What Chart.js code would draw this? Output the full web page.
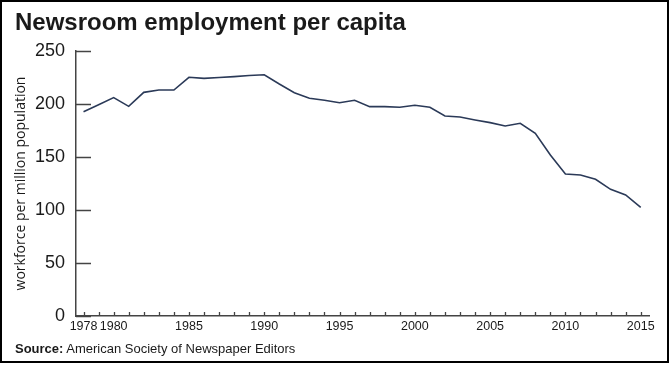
<!DOCTYPE html>
<html>
<head>
<meta charset="utf-8">
<script src="https://cdn.jsdelivr.net/npm/chart.js@4/dist/chart.umd.min.js"></script>
<style>
  html, body { margin: 0; padding: 0; background: #fff; }
  #wrap { position: relative; width: 670px; height: 367px; overflow: hidden; }
  #frame { position: absolute; left: 0; top: 0; width: 669px; height: 363px; box-sizing: border-box; border: 2px solid #000; pointer-events: none; }
  #title { position: absolute; left: 15px; top: 10px; font: bold 24px/24px "Liberation Sans", Arial, sans-serif; color: #1a1a1a; white-space: nowrap; }
  #source { position: absolute; left: 15px; top: 342px; font: 13px/13px "Liberation Sans", Arial, sans-serif; color: #1a1a1a; white-space: nowrap; }
  #chartNewsroom { position: absolute; left: 0; top: 0; }
</style>
</head>
<body>
<div id="wrap">
  <canvas id="chartNewsroom" width="670" height="367"></canvas>
  <div id="title">Newsroom employment per capita</div>
  <div id="source"><b>Source:</b> American Society of Newspaper Editors</div>
  <div id="frame"></div>
</div>
<script>
/* Datos del grafico */
const years = [
  1978, 1979, 1980, 1981, 1982, 1983, 1984, 1985, 1986, 1987,
  1988, 1989, 1990, 1991, 1992, 1993, 1994, 1995, 1996, 1997,
  1998, 1999, 2000, 2001, 2002, 2003, 2004, 2005, 2006, 2007,
  2008, 2009, 2010, 2011, 2012, 2013, 2014, 2015,
];
const workforce = [
  192.7, 199.3, 206, 197.8, 211, 213.2, 213.2, 225.2, 224.2, 225,
  225.8, 226.9, 227.6, 218.9, 210.7, 205.4, 203.5, 201.2, 203.5, 197.5,
  197.5, 196.9, 198.8, 196.9, 188.7, 187.7, 184.9, 182.4, 179.2, 181.8,
  172.4, 151.9, 134, 133, 129, 119.5, 114.2, 102.5,
];
const xTickLabels = [1978, 1980, 1985, 1990, 1995, 2000, 2005, 2010, 2015];
const yTicks = [0, 50, 100, 150, 200, 250];

/* Marcas de los ejes hacia adentro */
const innerTicks = {
  id: 'innerTicks',
  afterDraw: (chart) => {
    const ctx = chart.ctx;
    const x = chart.scales.x;
    const y = chart.scales.y;
    ctx.save();
    ctx.strokeStyle = '#444';
    ctx.lineWidth = 1.3;
    ctx.beginPath();
    for (let v of yTicks) {
      const py = Math.round(y.getPixelForValue(v)) + 0.5;
      ctx.moveTo(x.left, py);
      ctx.lineTo(x.left + 15, py);
    }
    for (let yr of years) {
      const px = Math.round(x.getPixelForValue(yr)) + 0.5;
      ctx.moveTo(px, y.bottom);
      ctx.lineTo(px, y.bottom - 4);
    }
    ctx.stroke();
    ctx.restore();
  },
};

const ctx = document.getElementById('chartNewsroom').getContext('2d');
const chartNewsroom = new Chart(ctx, {
  type: 'line',
  data: {
    datasets: [
      {
        data: years.map((yr, i) => ({ x: yr, y: workforce[i] })),
        borderColor: '#2b3a58',
        borderWidth: 1.6,
        pointRadius: 0,
        tension: 0,
        fill: false,
      },
    ],
  },
  options: {
    responsive: false,
    animation: false,
    layout: {
      padding: { left: 0, top: 51, right: 21, bottom: 21 },
    },
    plugins: {
      legend: { display: false },
      tooltip: { enabled: false },
    },
    scales: {
      x: {
        type: 'linear',
        min: 1977.5,
        max: 2015.55,
        grid: { display: false, drawTicks: false },
        border: { display: true, color: '#444', width: 1.5 },
        afterBuildTicks: (scale) => {
          scale.ticks = years.map((yr) => ({ value: yr }));
        },
        afterFit: (scale) => {
          scale.height = 30;
        },
        ticks: {
          autoSkip: false,
          maxRotation: 0,
          padding: 3,
          color: '#1a1a1a',
          font: { family: 'Liberation Sans', size: 12.5 },
          callback: (v) => (xTickLabels.includes(v) ? String(v) : ''),
        },
      },
      y: {
        min: 0,
        max: 250,
        grid: { display: false, drawTicks: false },
        border: { display: true, color: '#444', width: 1.5 },
        afterBuildTicks: (scale) => {
          scale.ticks = yTicks.map((v) => ({ value: v }));
        },
        afterFit: (scale) => {
          scale.width = 76;
        },
        ticks: {
          padding: 11,
          color: '#1a1a1a',
          font: { family: 'Liberation Sans', size: 18 },
        },
        title: {
          display: true,
          text: 'workforce per million population',
          color: '#1a1a1a',
          padding: { top: 13, bottom: 0 },
          font: { family: 'Open Sans', size: 14 },
        },
      },
    },
  },
  plugins: [innerTicks],
});
</script>
</body>
</html>
